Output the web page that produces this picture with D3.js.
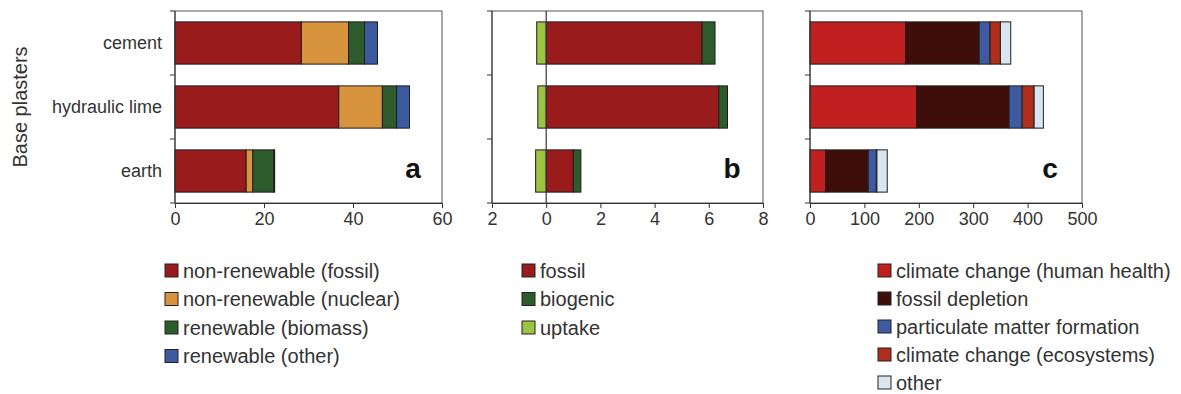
<!DOCTYPE html>
<html>
<head>
<meta charset="utf-8">
<script src="https://cdn.jsdelivr.net/npm/d3@7"></script>
<style>
  html, body { margin: 0; padding: 0; background: #fff; }
  svg { display: block; font-family: "Liberation Sans", Arial, sans-serif; }
</style>
</head>
<body>
<svg id="chart" width="1181" height="394"></svg>
<script>
// Base plasters compared on three indicators
const categories = ["cement", "hydraulic lime", "earth"];

// (a) primary energy demand
const energyLabels = ["non-renewable (fossil)", "non-renewable (nuclear)", "renewable (biomass)", "renewable (other)"];
const energyFossil  = [28.4, 36.8, 16.0];
const energyNuclear = [10.6, 9.8, 1.5];
const energyBiomass = [3.6, 3.2, 4.7];
const energyOther   = [2.9, 2.9, 0.2];
const energyTicks = [0, 20, 40, 60];

// (b) greenhouse gas emissions (uptake is negative)
const carbonLabels = ["fossil", "biogenic", "uptake"];
const carbonFossil   = [5.75, 6.37, 1.0];
const carbonBiogenic = [0.48, 0.32, 0.28];
const carbonUptake   = [-0.35, -0.31, -0.39];
const carbonTicks = [-2, 0, 2, 4, 6, 8];

// (c) damage score by impact category
const impactLabels = ["climate change (human health)", "fossil depletion", "particulate matter formation", "climate change (ecosystems)", "other"];
const impactClimateHealth = [176, 196, 29];
const impactFossilDepl    = [135, 170, 78];
const impactParticulate   = [20, 24, 15];
const impactClimateEco    = [19, 22, 1];
const impactOther         = [19, 17, 19];
const impactTicks = [0, 100, 200, 300, 400, 500];

const svg = d3.select("#chart");
const textColor = "#333";
const frameColor = "#555";
const barStroke = "#1e1e1e";

const y = d3.scaleBand()
  .domain(categories)
  .range([11, 203])
  .paddingInner(0.34)
  .paddingOuter(0.17);

function panel(opts) {
  const x = d3.scaleLinear().domain(opts.domain).range(opts.range);
  const g = svg.append("g");
  const [x0, x1] = opts.range;
  const [yTop, yBot] = y.range();

  // frame
  g.append("rect")
    .attr("x", x0).attr("y", yTop)
    .attr("width", x1 - x0).attr("height", yBot - yTop)
    .attr("fill", "none").attr("stroke", frameColor).attr("stroke-width", 1);

  // bars: positive parts stacked from zero, negative parts from zero leftwards
  opts.series.forEach((s, si) => {
    s.values.forEach((v, ci) => {
      let start = 0;
      if (v >= 0) {
        for (let k = 0; k < si; k++) {
          const pv = opts.series[k].values[ci];
          if (pv > 0) start += pv;
        }
      }
      const a = x(Math.min(start, start + v));
      const b = x(Math.max(start, start + v));
      g.append("rect")
        .attr("x", a).attr("y", y(categories[ci]))
        .attr("width", b - a).attr("height", y.bandwidth())
        .attr("fill", s.color)
        .attr("stroke", barStroke).attr("stroke-width", 1);
    });
  });

  // zero reference line
  if (opts.domain[0] < 0) {
    g.append("line")
      .attr("x1", x(0)).attr("x2", x(0))
      .attr("y1", yTop).attr("y2", yBot)
      .attr("stroke", "#333").attr("stroke-width", 1.2);
  }

  // bottom axis
  const axis = d3.axisBottom(x)
    .tickValues(opts.ticks)
    .tickSize(5)
    .tickPadding(4)
    .tickFormat(opts.format || d3.format("d"));
  const ax = g.append("g").attr("transform", `translate(0,${yBot})`).call(axis);
  ax.select(".domain").attr("stroke", "#333");
  ax.selectAll(".tick line").attr("stroke", "#333");
  ax.selectAll(".tick text")
    .attr("fill", textColor)
    .attr("font-size", 18)
    .attr("font-family", "Liberation Sans, Arial, sans-serif");

  // left spine with ticks at band boundaries
  g.append("line")
    .attr("x1", x0).attr("x2", x0).attr("y1", yTop).attr("y2", yBot)
    .attr("stroke", "#333");
  const bounds = d3.range(categories.length + 1).map(i => yTop + i * y.step());
  g.selectAll(".btick").data(bounds).join("line")
    .attr("x1", x0 - 5).attr("x2", x0)
    .attr("y1", d => d).attr("y2", d => d)
    .attr("stroke", "#333");

  // panel letter
  g.append("text")
    .attr("x", opts.letterX).attr("y", 178)
    .attr("text-anchor", "middle")
    .attr("font-size", 28).attr("font-weight", "bold")
    .attr("fill", "#111")
    .text(opts.letter);

  // legend
  const lg = svg.append("g");
  opts.series.forEach((s, i) => {
    const cy = opts.legendY + i * opts.legendStep;
    lg.append("rect")
      .attr("x", opts.legendX).attr("y", cy - 6.5)
      .attr("width", 13).attr("height", 13)
      .attr("fill", s.color).attr("stroke", "#222").attr("stroke-width", 1);
    lg.append("text")
      .attr("x", opts.legendX + 18).attr("y", cy)
      .attr("dy", "0.35em")
      .attr("font-size", 20).attr("fill", textColor)
      .text(s.label);
  });
  return x;
}

panel({
  domain: [0, 60], range: [175, 442], ticks: energyTicks, letter: "a", letterX: 413,
  legendX: 165, legendY: 270.5, legendStep: 28.5,
  series: [
    { label: energyLabels[0], values: energyFossil,  color: "#9a1b1b" },
    { label: energyLabels[1], values: energyNuclear, color: "#d8943c" },
    { label: energyLabels[2], values: energyBiomass, color: "#2e5b2c" },
    { label: energyLabels[3], values: energyOther,   color: "#3d5a9e" }
  ]
});

panel({
  domain: [-2, 8], range: [492, 763], ticks: carbonTicks, letter: "b", letterX: 732,
  format: d => String(Math.abs(d)),
  legendX: 522, legendY: 270.5, legendStep: 28.5,
  series: [
    { label: carbonLabels[0], values: carbonFossil,   color: "#9a1b1b" },
    { label: carbonLabels[1], values: carbonBiogenic, color: "#2e5b2c" },
    { label: carbonLabels[2], values: carbonUptake,   color: "#9cc440" }
  ]
});

panel({
  domain: [0, 500], range: [810, 1082], ticks: impactTicks, letter: "c", letterX: 1050,
  legendX: 878, legendY: 270.5, legendStep: 28,
  series: [
    { label: impactLabels[0], values: impactClimateHealth, color: "#c0201f" },
    { label: impactLabels[1], values: impactFossilDepl,    color: "#3e0f08" },
    { label: impactLabels[2], values: impactParticulate,   color: "#3f5aa0" },
    { label: impactLabels[3], values: impactClimateEco,    color: "#b02e1c" },
    { label: impactLabels[4], values: impactOther,         color: "#d7e6f1" }
  ]
});

// category labels
svg.append("g").selectAll("text").data(categories).join("text")
  .attr("x", 162)
  .attr("y", d => y(d) + y.bandwidth() / 2)
  .attr("dy", "0.35em")
  .attr("text-anchor", "end")
  .attr("font-size", 18)
  .attr("fill", textColor)
  .text(d => d);

// axis title
svg.append("text")
  .attr("transform", "translate(20,107) rotate(-90)")
  .attr("dy", "0.35em")
  .attr("text-anchor", "middle")
  .attr("font-size", 20)
  .attr("fill", textColor)
  .text("Base plasters");
</script>
</body>
</html>
